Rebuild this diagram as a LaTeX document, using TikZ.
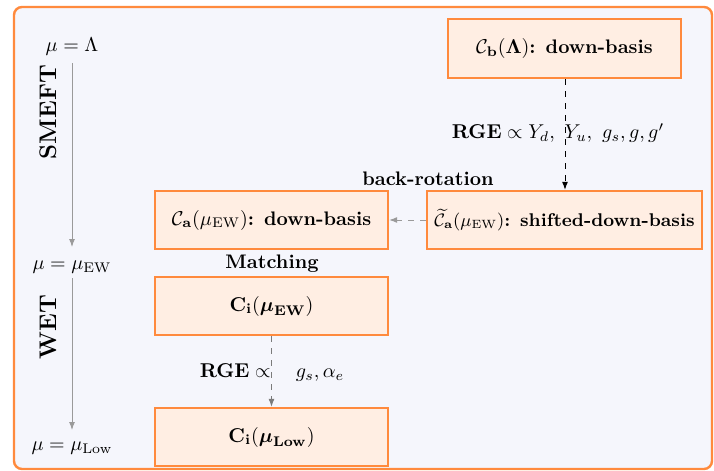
\documentclass[tikz,border=0pt]{standalone}
\usepackage{amsmath,amssymb}
\usetikzlibrary{arrows.meta}
\definecolor{frameorange}{HTML}{FF8A3D}
\definecolor{boxfill}{HTML}{FFEEE3}
\definecolor{panel}{HTML}{F5F6FC}
\definecolor{axisgray}{HTML}{9A9A9A}
\tikzset{
  stagebox/.style={draw=frameorange, line width=1.2pt, fill=boxfill, rectangle, inner sep=0pt, font=\fontsize{9.8}{11}\selectfont},
  flowarrow/.style={dashed, line width=0.5pt, -{Latex[length=4pt,width=3pt]}},
  axisarrow/.style={draw=axisgray, line width=0.5pt, -{Latex[length=4pt,width=3pt]}, shorten >=0pt},
  lbl/.style={font=\fontsize{9.8}{11}\selectfont, inner sep=1pt},
  ftext/.style={font=\fontsize{12}{14}\selectfont\bfseries, rotate=90}
}
\begin{document}
\begin{tikzpicture}[x=0.5pt,y=-0.5pt]
\useasboundingbox (0,0) rectangle (714,471);
\fill[white] (0,0) rectangle (714,471);
\draw[frameorange, line width=1.2pt, fill=panel, rounded corners=4pt] (14,7) rectangle (712,469);

% boxes
\node[stagebox, minimum width=116.5pt, minimum height=29.5pt] (cb) at (564.5,48.5) {$\mathcal{C}_{\mathbf{b}}(\boldsymbol{\Lambda})$\textbf{: down-basis}};
\node[stagebox, minimum width=137.5pt, minimum height=29pt, font=\fontsize{9.2}{11}\selectfont] (cat) at (564.5,220) {$\widetilde{\mathcal{C}}_{\mathbf{a}}(\mu_{\mathrm{EW}})$\textbf{: shifted-down-basis}};
\node[stagebox, minimum width=116.5pt, minimum height=29pt] (ca) at (271.5,220) {$\mathcal{C}_{\mathbf{a}}(\mu_{\mathrm{EW}})$\textbf{: down-basis}};
\node[stagebox, minimum width=116.5pt, minimum height=29pt] (ciew) at (271.5,306) {$\mathbf{C}_{\mathbf{i}}(\boldsymbol{\mu}_{\mathbf{EW}})$};
\node[stagebox, minimum width=116.5pt, minimum height=29pt] (cilow) at (271.5,437) {$\mathbf{C}_{\mathbf{i}}(\boldsymbol{\mu}_{\mathbf{Low}})$};

% connectors
\draw[flowarrow] (cb.south -| 565,0) -- (cat.north -| 565,0);
\draw[flowarrow, draw=axisgray] (cat.west) -- (ca.east);
\draw[flowarrow, draw=axisgray!80!black] (ciew.south) -- (cilow.north);

% labels
\node[lbl] (rge1) at (558,133) {$\mathbf{RGE}\propto Y_d,\ Y_u,\ g_s, g, g'$};
\node[lbl] (rge2) at (272,373) {$\mathbf{RGE}\propto\quad g_s, \alpha_e$};
\node[lbl] (back) at (428,179) {\textbf{back-rotation}};
\node[lbl] (match) at (272,264) {\textbf{Matching}};

% scale axis
\node[lbl] (mlam) at (72,47) {$\mu=\Lambda$};
\node[lbl] (mew) at (72,267) {$\mu=\mu_{\mathrm{EW}}$};
\node[lbl] (mlow) at (72,448) {$\mu=\mu_{\mathrm{Low}}$};
\coordinate (a1s) at (72,63);
\coordinate (a1e) at (72,247);
\coordinate (a2s) at (72,278);
\coordinate (a2e) at (72,430);
\draw[axisarrow] (a1s) -- (a1e);
\draw[axisarrow] (a2s) -- (a2e);
\node[ftext] (smeft) at (48,112) {SMEFT};
\node[ftext] (wet) at (48,327) {WET};
\end{tikzpicture}
\end{document}
